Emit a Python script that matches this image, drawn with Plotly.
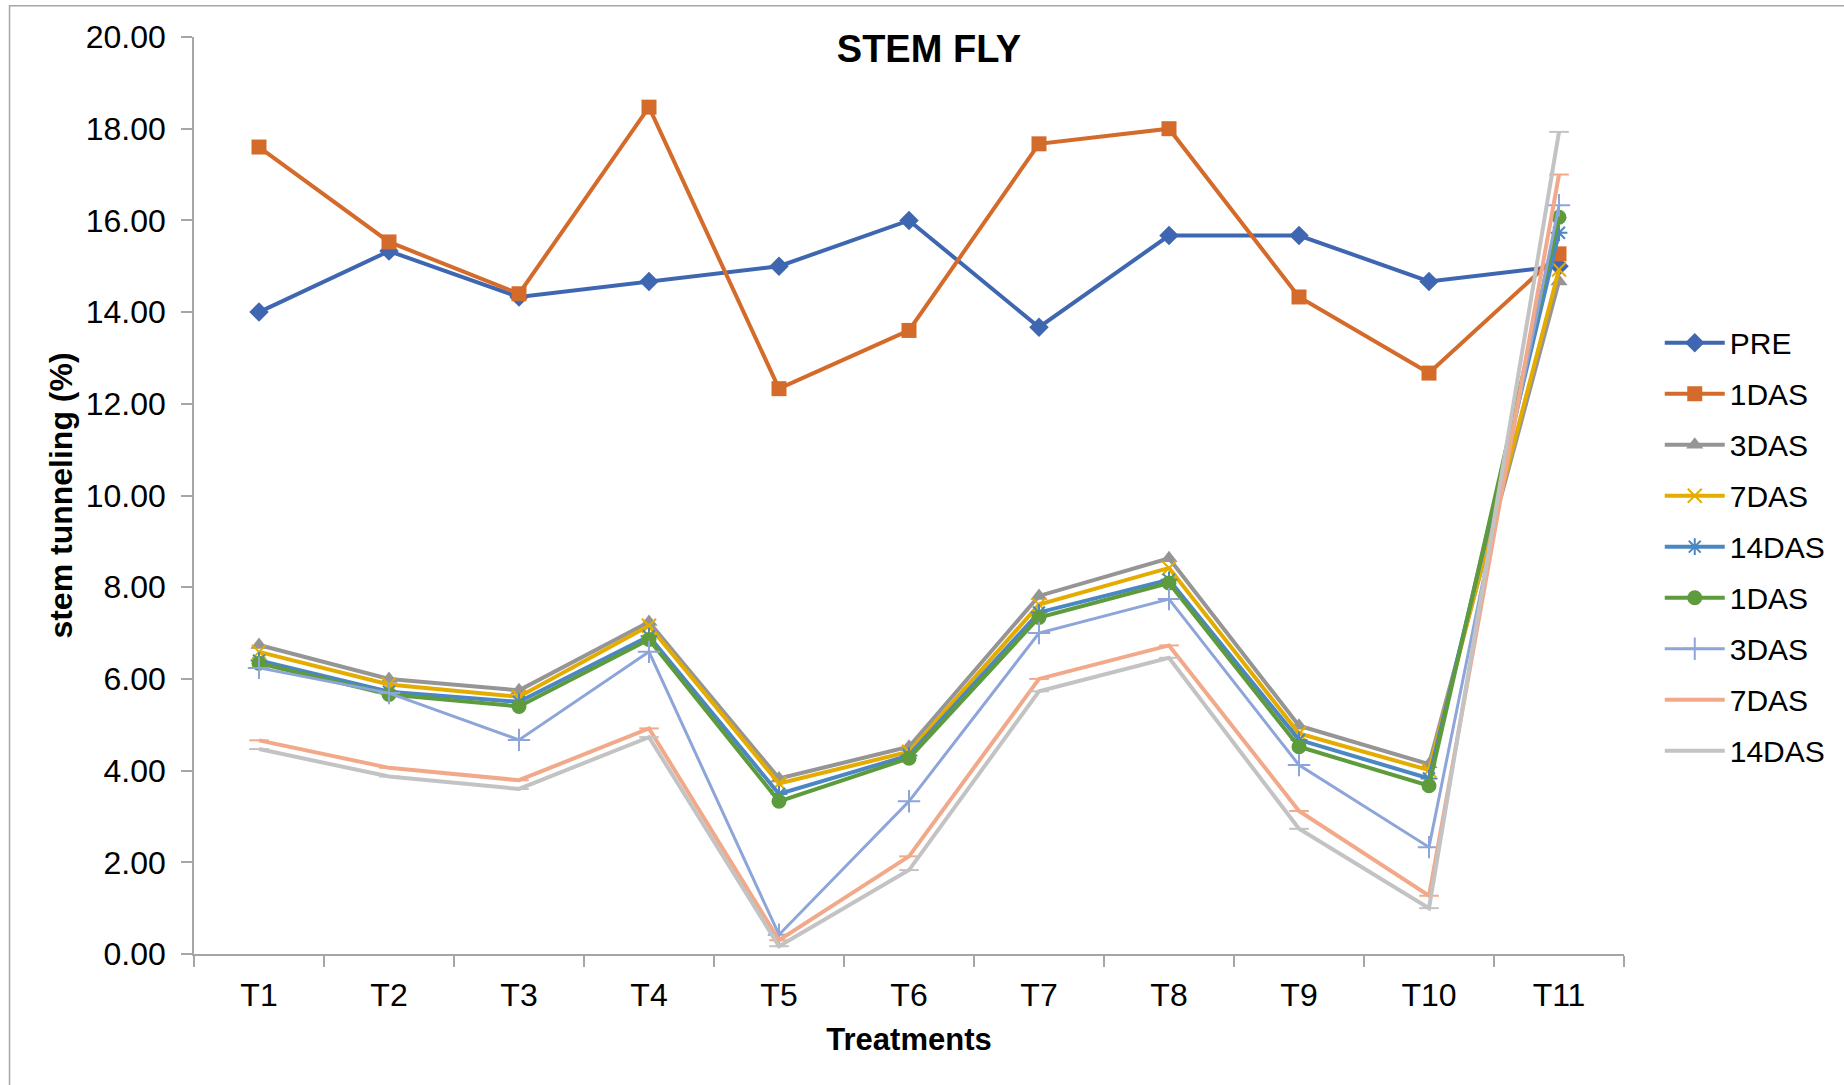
import plotly.graph_objects as go

treatments = ["T1", "T2", "T3", "T4", "T5", "T6", "T7", "T8", "T9", "T10", "T11"]

pre = [14.00, 15.33, 14.33, 14.67, 15.00, 16.00, 13.67, 15.67, 15.67, 14.67, 15.00]
das1 = [17.60, 15.53, 14.40, 18.47, 12.33, 13.60, 17.67, 18.00, 14.33, 12.67, 15.27]
das3 = [6.74, 6.00, 5.75, 7.24, 3.83, 4.52, 7.81, 8.63, 4.98, 4.14, 14.67]
das7 = [6.59, 5.88, 5.61, 7.16, 3.72, 4.41, 7.62, 8.42, 4.81, 4.01, 14.93]
das14 = [6.40, 5.72, 5.50, 6.93, 3.49, 4.33, 7.45, 8.16, 4.67, 3.83, 15.73]
das1_b = [6.34, 5.66, 5.40, 6.86, 3.33, 4.27, 7.34, 8.09, 4.52, 3.67, 16.07]
das3_b = [6.24, 5.69, 4.67, 6.59, 0.42, 3.33, 7.00, 7.74, 4.12, 2.33, 16.33]
das7_b = [4.66, 4.06, 3.79, 4.92, 0.30, 2.13, 6.00, 6.73, 3.12, 1.27, 17.00]
das14_b = [4.47, 3.87, 3.60, 4.73, 0.17, 1.83, 5.73, 6.46, 2.73, 1.00, 17.93]

series = [
    ("PRE", pre, "#3F67B1", "diamond", 15, 4),
    ("1DAS", das1, "#D46B2A", "square", 15, 4),
    ("3DAS", das3, "#959595", "triangle-up", 15, 4),
    ("7DAS", das7, "#E5AC00", "x-thin-open", 14, 4),
    ("14DAS", das14, "#4A87C3", "asterisk-open", 14, 4),
    ("1DAS", das1_b, "#5E9B3D", "circle", 15, 4),
    ("3DAS", das3_b, "#8DA5D9", "cross-thin-open", 16, 3),
    ("7DAS", das7_b, "#F2A98A", "line-ew-open", 14, 4),
    ("14DAS", das14_b, "#C3C3C3", "line-ew-open", 14, 4),
]

FONT = "Liberation Sans, Arial, sans-serif"

fig = go.Figure()
for i, (name, vals, color, symbol, msize, lw) in enumerate(series):
    open_sym = symbol.endswith("open")
    fig.add_trace(go.Scatter(
        x=treatments, y=vals, name=name, mode="lines+markers",
        legendgroup=f"g{i}",
        line=dict(color=color, width=lw),
        marker=dict(symbol=symbol, size=msize, color=color,
                    line=dict(color=color, width=2 if open_sym else 0)),
    ))

fig.update_layout(
    width=1844, height=1085,
    margin=dict(l=194, r=220, t=37, b=131),
    paper_bgcolor="white", plot_bgcolor="white",
    font=dict(family=FONT, size=30, color="black"),
    title=dict(text="<b>STEM FLY</b>", x=0.514, xref="paper", xanchor="center",
               y=0.955, yref="container", yanchor="middle",
               font=dict(family=FONT, size=38, color="black")),
    legend=dict(x=1.025, xanchor="left", y=0.695, yanchor="top",
                font=dict(family=FONT, size=30, color="black"),
                tracegroupgap=9, itemwidth=60, bgcolor="rgba(0,0,0,0)"),
    showlegend=True,
)

fig.update_xaxes(
    type="category", range=[-0.5, 10.5],
    showline=True, linecolor="#A6A6A6", linewidth=1.5,
    ticks="outside", tickson="boundaries", ticklen=11, tickcolor="#A6A6A6", tickwidth=1.5,
    ticklabelstandoff=12,
    showgrid=False, zeroline=False,
    tickfont=dict(family=FONT, size=32, color="black"),
    title=dict(text="<b>Treatments</b>", standoff=16,
               font=dict(family=FONT, size=31, color="black")),
)

fig.update_yaxes(
    range=[0, 20], dtick=2, tickformat=".2f",
    showline=True, linecolor="#A6A6A6", linewidth=1.5,
    ticks="outside", ticklen=11, tickcolor="#A6A6A6", tickwidth=1.5,
    ticklabelstandoff=9,
    showgrid=False, zeroline=False,
    tickfont=dict(family=FONT, size=32, color="black"),
    title=dict(text="<b>stem tunneling (%)</b>", standoff=4,
               font=dict(family=FONT, size=32, color="black")),
)

# outer chart frame
fig.add_shape(type="rect", xref="paper", yref="paper",
              x0=-0.129, x1=1.3, y0=-0.3, y1=1.034,
              line=dict(color="#A6A6A6", width=1.5), layer="below")

fig.write_html("out.html")
